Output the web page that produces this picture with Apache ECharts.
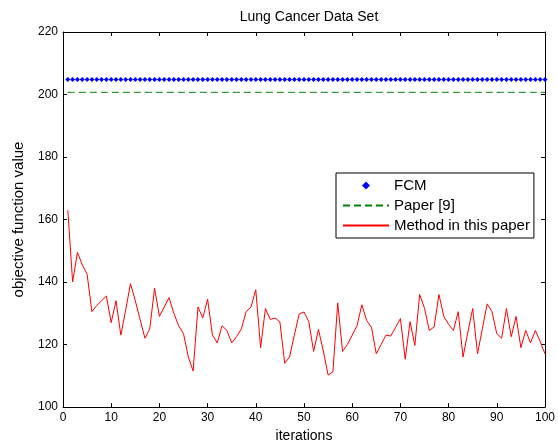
<!DOCTYPE html>
<html>
<head>
<meta charset="utf-8">
<script src="https://cdn.jsdelivr.net/npm/echarts@6/dist/echarts.min.js"></script>
<style>html,body{margin:0;padding:0;background:#fff;}#c{width:558px;height:448px;}</style>
</head>
<body>
<div id="c"></div>
<script>
const iterations = Array.from({length: 100}, (_, k) => k + 1);
const fcmValue = 204.8;
const paper9Value = 200.7;
const methodValues = [
  163, 140, 149.5, 145.5, 142.5, 130.5, 132.5, 134, 135.5, 127,
  134, 123, 131, 139.5, 134, 128, 122, 125, 138, 129,
  132, 135, 130, 126, 123.5, 116, 111.5, 132, 128.5, 134.5,
  123, 120.5, 126, 124.5, 120.5, 122.5, 125, 130.5, 132, 137.5,
  119, 131.5, 128, 128.5, 127.2, 114, 116, 123, 129.8, 130.4,
  127.3, 117.8, 124.8, 118, 110.2, 111.3, 133.3, 117.8, 120, 123,
  126, 132.7, 127.7, 125.5, 117, 120, 123, 122.7, 125.5, 128.3,
  115.3, 127.3, 119.7, 136, 131.6, 124.5, 125.6, 136, 129, 126.5,
  124.5, 130.5, 116, 124, 131.5, 117, 125, 133, 130.5, 123.5,
  122, 131.5, 122.5, 129, 119, 124.5, 120.5, 124.5, 121, 117
];
const seriesNames = ['FCM', 'Paper [9]', 'Method in this paper'];
const xTicks = { min: 0, max: 100, interval: 10 };
const yTicks = { min: 100, max: 220, interval: 20 };

const fcmData = iterations.map(i => [i, fcmValue]);
const paperData = iterations.map(i => [i, paper9Value]);
const methodData = iterations.map((i, k) => [i, methodValues[k]]);

const font = 'Liberation Sans, Arial, sans-serif';
const chart = echarts.init(document.getElementById('c'), null, {renderer: 'canvas'});
const axisCommon = {
  axisLine: {show: true, onZero: false, lineStyle: {color: '#000', width: 1}},
  axisTick: {show: true, inside: true, length: 4, lineStyle: {color: '#000'}},
  splitLine: {show: false},
};
chart.setOption({
  backgroundColor: '#fff',
  animation: false,
  title: {
    text: 'Lung Cancer Data Set', left: 304, top: 5, textAlign: 'center',
    textStyle: {fontFamily: font, fontSize: 14, fontWeight: 'normal', color: '#000'}
  },
  grid: {left: 63, right: 12, top: 32, bottom: 38, containLabel: false},
  legend: {
    orient: 'vertical', left: 336, top: 173,
    data: [
      {name: seriesNames[0], itemStyle: {opacity: 1}, lineStyle: {opacity: 0}},
      {name: seriesNames[1], itemStyle: {opacity: 0}},
      {name: seriesNames[2], itemStyle: {opacity: 0}}
    ],
    backgroundColor: '#fff', borderColor: '#000', borderWidth: 1,
    padding: [5, 4, 5, 6], itemGap: 5, itemWidth: 46, itemHeight: 10,
    textStyle: {fontFamily: font, fontSize: 15, color: '#000'}
  },
  xAxis: [
    Object.assign({type: 'value', min: xTicks.min, max: xTicks.max, interval: xTicks.interval,
      name: 'iterations', nameLocation: 'middle', nameGap: 22,
      nameTextStyle: {fontFamily: font, fontSize: 14, color: '#000'},
      axisLabel: {fontFamily: font, fontSize: 12, color: '#000', margin: 5}}, axisCommon),
    Object.assign({type: 'value', position: 'top', min: xTicks.min, max: xTicks.max, interval: xTicks.interval,
      axisLabel: {show: false}}, axisCommon)
  ],
  yAxis: [
    Object.assign({type: 'value', min: yTicks.min, max: yTicks.max, interval: yTicks.interval,
      name: 'objective function value', nameLocation: 'middle', nameGap: 37,
      nameTextStyle: {fontFamily: font, fontSize: 15, color: '#000'},
      axisLabel: {fontFamily: font, fontSize: 12, color: '#000', margin: 5}}, axisCommon),
    Object.assign({type: 'value', position: 'right', min: yTicks.min, max: yTicks.max, interval: yTicks.interval,
      axisLabel: {show: false}}, axisCommon)
  ],
  series: [
    {name: seriesNames[0], type: 'line', data: fcmData, symbol: 'diamond', symbolSize: 5, showSymbol: true,
      itemStyle: {color: '#0000ff'}, lineStyle: {width: 0, opacity: 0}, z: 3},
    {name: seriesNames[1], type: 'line', data: paperData, symbol: 'none',
      itemStyle: {color: '#008000'}, lineStyle: {color: '#008000', width: 1, type: [7, 4]}, z: 2},
    {name: seriesNames[2], type: 'line', data: methodData, symbol: 'none',
      itemStyle: {color: '#ff0000'}, lineStyle: {color: '#ff0000', width: 1}, z: 4}
  ]
});
</script>
</body>
</html>
